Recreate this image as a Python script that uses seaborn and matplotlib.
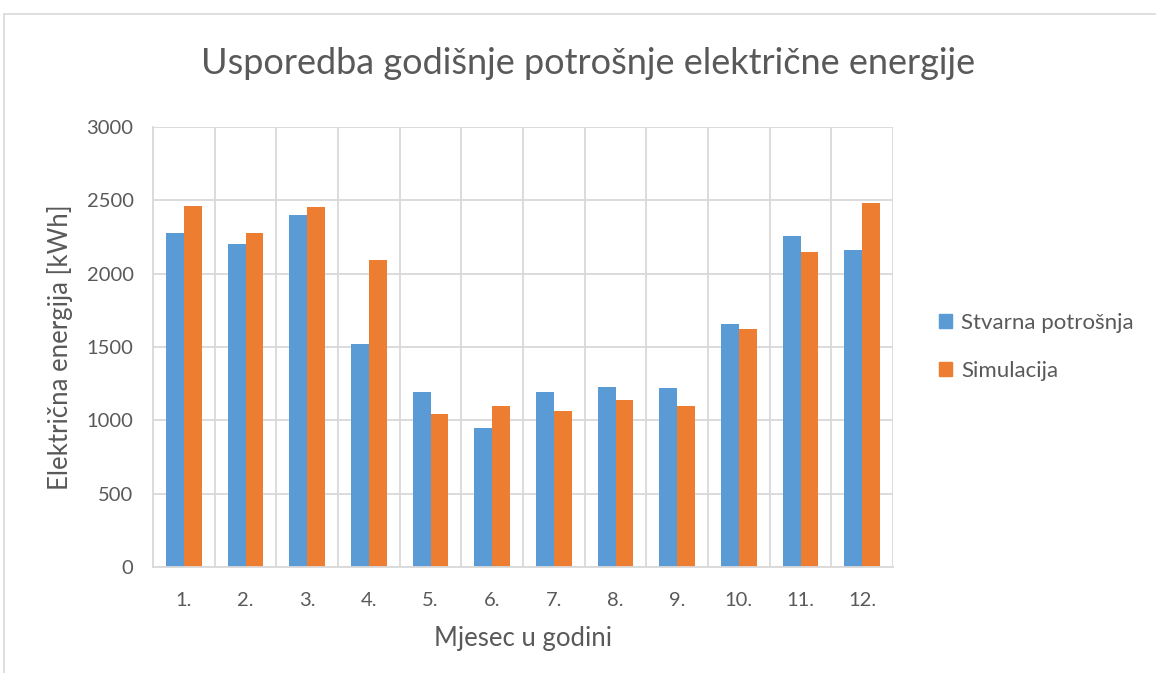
import numpy as np
import pandas as pd
import matplotlib
matplotlib.use("Agg")
import matplotlib.pyplot as plt
import seaborn as sns
from matplotlib.lines import Line2D

months = ["1.", "2.", "3.", "4.", "5.", "6.", "7.", "8.", "9.", "10.", "11.", "12."]
stvarna = [2280, 2200, 2400, 1520, 1190, 945, 1190, 1230, 1220, 1655, 2260, 2160]
simulacija = [2460, 2280, 2455, 2090, 1045, 1100, 1065, 1140, 1095, 1620, 2145, 2485]
series_names = ["Stvarna potrošnja", "Simulacija"]
colors = ["#5B9BD5", "#ED7D31"]

df = pd.DataFrame({
    "mjesec": months * 2,
    "energija": stvarna + simulacija,
    "serija": [series_names[0]] * len(months) + [series_names[1]] * len(months),
})

sns.set_theme(style="white")
plt.rcParams["font.family"] = ["Lato", "DejaVu Sans"]
text_color = "#595959"
grid_color = "#D9D9D9"

fig = plt.figure(figsize=(11.56, 6.73), dpi=100)
ax = fig.add_axes([153 / 1156, 106 / 673, 740 / 1156, 440 / 673])

sns.barplot(data=df, x="mjesec", y="energija", hue="serija",
            palette=colors, width=0.58, saturation=1, linewidth=0,
            ax=ax, legend=True)

ax.set_ylim(0, 3000)
ax.set_xlim(-0.5, len(months) - 0.5)
ax.set_yticks(np.arange(0, 3001, 500))
ax.set_xticks(np.arange(-0.5, len(months), 1), minor=True)
ax.yaxis.grid(True, color=grid_color, linewidth=1.3)
ax.xaxis.grid(True, which="minor", color=grid_color, linewidth=1.3)
ax.set_axisbelow(True)
for s in ["top", "right"]:
    ax.spines[s].set_visible(False)
ax.spines["left"].set_color(grid_color)
ax.spines["bottom"].set_color(grid_color)
ax.spines["left"].set_linewidth(1.3)
ax.spines["bottom"].set_linewidth(1.3)
ax.tick_params(axis="both", which="both", length=0, labelsize=14.5, colors=text_color)
ax.tick_params(axis="x", pad=18)
ax.tick_params(axis="y", pad=14)

ax.set_xlabel("Mjesec u godini", fontsize=18.5, color=text_color, labelpad=12)
ax.set_ylabel("Električna energija [kWh]", fontsize=18.5, color=text_color, labelpad=10)
fig.text(0.509, 0.906, "Usporedba godišnje potrošnje električne energije",
         ha="center", va="center", fontsize=26, color=text_color)

handles = [plt.Rectangle((0, 0), 1, 1, color=c) for c in colors]
ax.legend(handles, series_names, loc="center left", bbox_to_anchor=(1.035, 0.5),
          frameon=False, fontsize=16, labelcolor=text_color,
          handlelength=0.6, handleheight=0.6, labelspacing=1.25, handletextpad=0.4)

# chart border
fig.add_artist(Line2D([4 / 1156, 4 / 1156], [0, 659 / 673], color=grid_color, linewidth=1.2,
                      transform=fig.transFigure))
fig.add_artist(Line2D([4 / 1156, 1], [659 / 673, 659 / 673], color=grid_color, linewidth=1.2,
                      transform=fig.transFigure))

fig.savefig("out.png", dpi=100)
